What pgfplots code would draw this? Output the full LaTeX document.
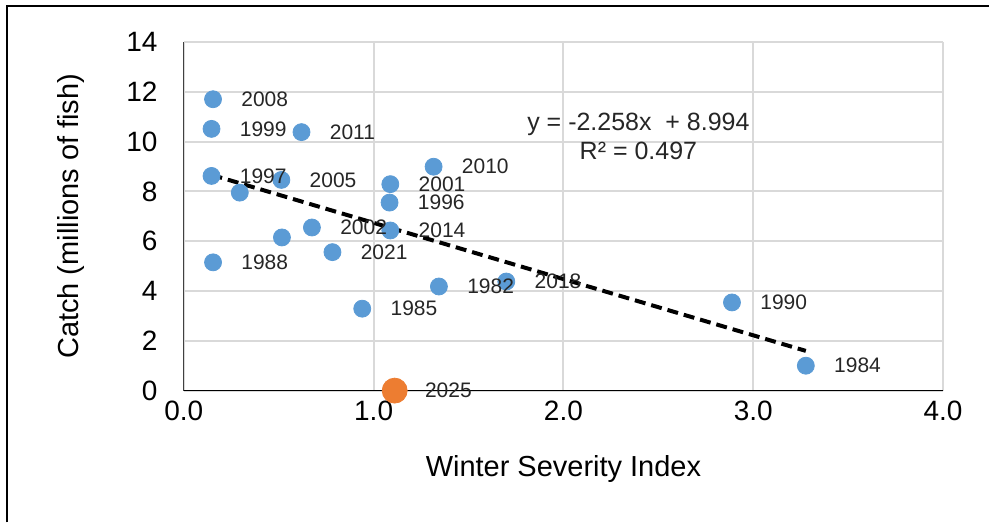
\documentclass[border=0pt]{standalone}
\usepackage{fontspec}
\setmainfont{Liberation Sans}
\usepackage{pgfplots}
\usepackage{pgfplotstable}
\pgfplotsset{compat=1.18}

\definecolor{ptblue}{RGB}{91,155,213}
\definecolor{ptorange}{RGB}{237,125,49}
\definecolor{gridgray}{RGB}{217,217,217}

% labelled winters
\pgfplotstableread{
x     y     label
0.154 11.70 2008
0.146 10.51 1999
0.620 10.38 2011
0.146 8.62  1997
0.514 8.46  2005
1.316 8.99  2010
1.088 8.29  2001
1.084 7.55  1996
0.675 6.55  2002
1.088 6.43  2014
0.783 5.56  2021
0.154 5.15  1988
0.940 3.29  1985
1.344 4.18  1982
1.699 4.38  2018
2.888 3.54  1990
3.277 1.00  1984
}\labelled

\pgfplotstableread{
x     y
0.295 7.95
0.517 6.15
}\unlabelled

\begin{document}
\begin{tikzpicture}
\begin{axis}[
    scale only axis,
    width=380pt, height=174.5pt,
    at={(0,0)}, anchor=south west,
    xmin=0, xmax=4, ymin=0, ymax=14,
    enlargelimits=false,
    clip=false,
    axis lines=left,
    axis line style={-, draw=black!75, line width=0.6pt},
    xtick={0,1,2,3,4}, ytick={0,2,...,14},
    major tick length=0pt,
    grid=major,
    major grid style={draw=gridgray, line width=1pt},
    /pgf/number format/assume math mode=true,
    x tick label style={/pgf/number format/fixed, /pgf/number format/fixed zerofill,
      /pgf/number format/precision=1, yshift=-5pt},
    tick label style={font=\fontsize{14}{16}\selectfont, inner sep=0pt},
    yticklabel style={xshift=-13pt},
    xlabel={Winter Severity Index},
    ylabel={Catch (millions of fish)},
    label style={font=\fontsize{14.5}{17}\selectfont},
    xlabel style={at={(rel axis cs:0.5,-0.226)}, anchor=center},
    ylabel style={at={(rel axis cs:-0.148,0.5)}, anchor=center},
]
  % points
  \addplot[only marks, mark=*, mark size=4.25pt, color=ptblue]
    table[x=x, y=y] {\labelled};
  \addplot[only marks, mark=*, mark size=4.25pt, color=ptblue]
    table[x=x, y=y] {\unlabelled};
  \addplot[only marks, mark=*, mark size=6.25pt, color=ptorange]
    coordinates {(1.111,0)};
  % linear trendline, ends at the data range
  \addplot[black, line width=2pt, dash pattern=on 5.5pt off 3pt]
    coordinates {(0.146,8.664) (3.277,1.595)};
  % year labels
  \addplot[draw=none, mark=none, nodes near coords, point meta=explicit symbolic,
    every node near coord/.style={anchor=west, inner sep=0pt, xshift=14pt,
      font=\fontsize{10.5}{12}\selectfont, text=black!85}]
    table[x=x, y=y, meta=label] {\labelled};
  \addplot[draw=none, mark=none, nodes near coords, point meta=explicit symbolic,
    every node near coord/.style={anchor=west, inner sep=0pt, xshift=15pt,
      font=\fontsize{10.5}{12}\selectfont, text=black!85}]
    coordinates {(1.111,0) [2025]};
  \draw[black, line width=0.6pt] (axis cs:0,0) -- (axis cs:4,0);
  \node[align=center, font=\fontsize{12.5}{14.5}\selectfont, text=black!85]
    at (axis cs:2.395,10.21) {y = -2.258x \ + 8.994\\R² = 0.497};
\end{axis}
\draw[black, line width=1pt] (-88.5pt,-66pt) -- (-88.5pt,192.5pt) -- (403pt,192.5pt);
\path[use as bounding box] (-92pt,-66pt) rectangle (403pt,195.5pt);
\end{tikzpicture}
\end{document}
